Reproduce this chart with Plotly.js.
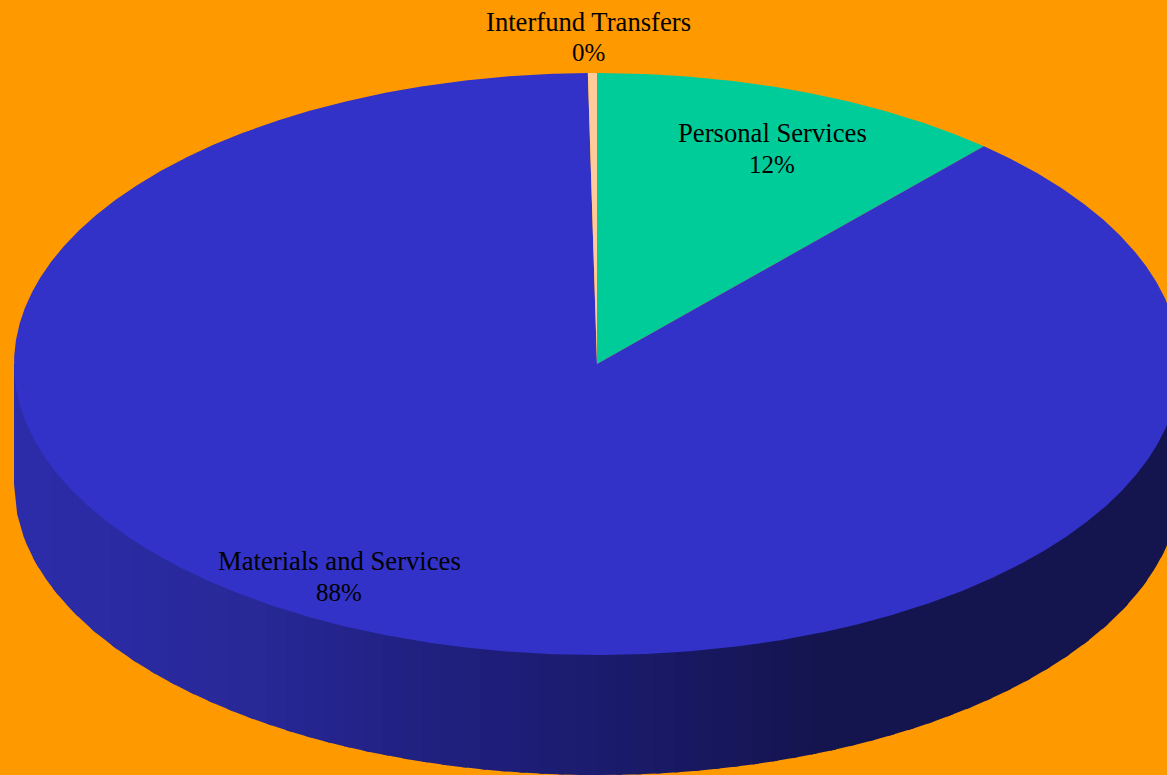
<!DOCTYPE html>
<html>
<head>
<meta charset="utf-8">
<script src="https://cdn.plot.ly/plotly-3.0.1.min.js"></script>
<style>
html, body { margin: 0; padding: 0; background: #FF9900; overflow: hidden; }
#chart { width: 1167px; height: 775px; }
</style>
</head>
<body>
<div id="chart"></div>
<script>
// Budget share by category, percent of total
const categories = ["Personal Services", "Materials and Services", "Interfund Transfers"];
const shares = [11.55, 88.2, 0.25];
const sliceColors = ["#00CC99", "#3232C8", "#FFCC99"];

// Label line positions on the page: [centre x, first line y, second line y]
const labelSpots = [[772, 133, 164], [339, 561, 592], [588.5, 22, 53]];

// Side wall shading across the disc, from left rim to right rim
const wallStopX = [-1, -0.6, -0.34, 0, 0.4, 1];
const wallStopRGB = [[44, 44, 170], [40, 40, 152], [33, 33, 132], [27, 27, 110], [20, 20, 78], [20, 20, 78]];

const W = 1167, H = 775;
const cx = 597, cy = 364, rx = 583, ry = 291, wallPx = 120;
const depth = wallPx / ry;
const bandCount = 60;

function shadeAt(x) {
  let i = 0;
  while (i < wallStopX.length - 2 && x > wallStopX[i + 1]) i++;
  const t = (x - wallStopX[i]) / (wallStopX[i + 1] - wallStopX[i]);
  const c = wallStopRGB[i].map((v, k) => Math.round(v + (wallStopRGB[i + 1][k] - v) * t));
  return `rgb(${c[0]},${c[1]},${c[2]})`;
}

function filled(name, xs, ys, color) {
  return {
    type: "scatter", mode: "lines", name,
    x: xs, y: ys, fill: "toself", fillcolor: color,
    line: { width: 0, color },
    hoverinfo: "skip", showlegend: false
  };
}

const traces = [];

// Extruded wall: vertical bands that start behind the top face, so its rim
// stays clean, and run on to the next band's edge so no seams show.
for (let b = 0; b < bandCount; b++) {
  const x0 = -1 + 2 * b / bandCount;
  const x1 = Math.min(1, x0 + 2.6 / bandCount);
  const xs = [x0, x1], ys = [0, 0];
  for (let k = 8; k >= 0; k--) {
    const x = x0 + (x1 - x0) * k / 8;
    xs.splice(1, 0, x);
    ys.splice(1, 0, -Math.sqrt(Math.max(0, 1 - x * x)) - depth);
  }
  traces.push(filled("wall", xs, ys, shadeAt(x0 + 1 / bandCount)));
}

// Top face: slices clockwise from twelve o'clock
const total = shares.reduce((a, b) => a + b, 0);
let running = 0;
shares.forEach((share, i) => {
  const a0 = running / total * 2 * Math.PI;
  running += share;
  const a1 = running / total * 2 * Math.PI;
  const steps = Math.max(2, Math.ceil((a1 - a0) / 0.004));
  const xs = [0], ys = [0];
  for (let k = 0; k <= steps; k++) {
    const a = a0 + (a1 - a0) * k / steps;
    xs.push(Math.sin(a));
    ys.push(Math.cos(a));
  }
  xs.push(0);
  ys.push(0);
  traces.push(filled(categories[i], xs, ys, sliceColors[i]));
});

// Two-line slice labels: category name over rounded percent
const fontFamily = "'Liberation Serif', 'Times New Roman', serif";
const annotations = [];
categories.forEach((name, i) => {
  const [px, y1, y2] = labelSpots[i];
  const pct = Math.round(shares[i] / total * 100) + "%";
  [[name, y1, 26.67], [pct, y2, 25]].forEach(([text, py, size]) => {
    annotations.push({
      text, xref: "paper", yref: "paper",
      x: px / W, y: 1 - py / H,
      xanchor: "center", yanchor: "middle",
      showarrow: false,
      font: { family: fontFamily, size, color: "#000000" }
    });
  });
});

const layout = {
  width: W, height: H,
  margin: { l: 0, r: 0, t: 0, b: 0, pad: 0 },
  paper_bgcolor: "#FF9900",
  plot_bgcolor: "#FF9900",
  showlegend: false,
  xaxis: { visible: false, range: [-cx / rx, (W - cx) / rx], fixedrange: true },
  yaxis: { visible: false, range: [-(H - cy) / ry, cy / ry], fixedrange: true },
  annotations
};

Plotly.newPlot("chart", traces, layout, { displayModeBar: false, staticPlot: true });
</script>
</body>
</html>
